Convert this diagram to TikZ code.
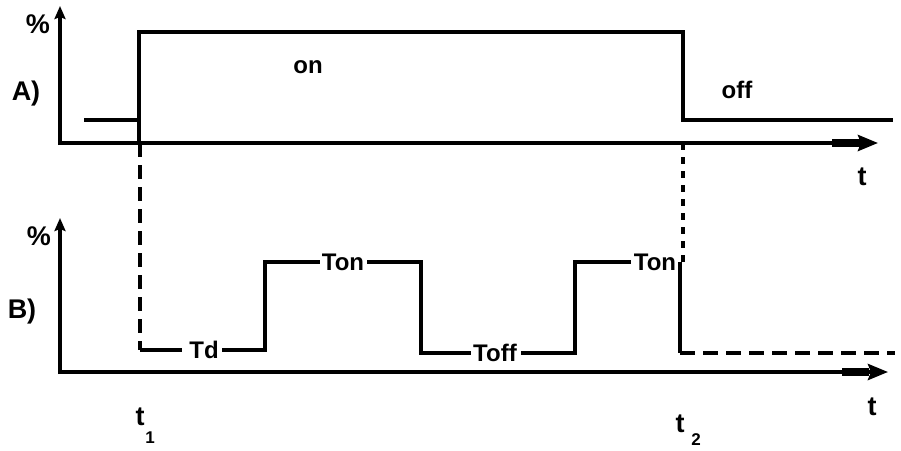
\documentclass[tikz,border=0pt]{standalone}
\usepackage{fontspec}
\setmainfont{Liberation Sans}
\usetikzlibrary{arrows.meta}
\tikzset{
  axis/.style={line width=4pt, line cap=butt},
  sig/.style={line width=3.2pt, line join=miter},
  dsh/.style={line width=3.6pt, dash pattern=on 14pt off 8pt},
  dshs/.style={line width=3.6pt, dash pattern=on 7pt off 7pt},
  lbl/.style={anchor=base, inner sep=0pt, font=\fontsize{24}{24}\selectfont\bfseries},
  big/.style={anchor=base, inner sep=0pt, font=\fontsize{27}{27}\selectfont\bfseries},
  sub/.style={anchor=base, inner sep=0pt, font=\fontsize{17}{17}\selectfont\bfseries},
  head/.style={-{Stealth[length=20pt,width=16pt,inset=3pt]}},
  yhead/.style={-{Stealth[length=13pt,width=11pt,inset=2pt]}}
}
\begin{document}
\begin{tikzpicture}[x=1pt,y=-1pt]
\useasboundingbox (0,0) rectangle (901,450);
% ---------- panel A ----------
\draw[axis,yhead] (60,145) -- (60,6);
\draw[axis,head] (58,143) -- (878,143);
\draw[line width=8pt] (832,143) -- (860,143);
\draw[sig] (84,120) -- (139,120);
\draw[sig] (139,143) -- (139,32) -- (683,32) -- (683,120) -- (893,120);
\node[big] (pa) at (38,33) {\%};
\node[big] (la) at (26,100) {A)};
\node[lbl] (on) at (308,73) {on};
\node[lbl] (off) at (737,98) {off};
\node[big] (ta) at (862,185) {t};
% ---------- dashed links ----------
\draw[dsh] (140,143) -- (140,350);
\draw[dshs] (683,143) -- (683,262);
% ---------- panel B ----------
\draw[axis,yhead] (60,374) -- (60,218);
\draw[axis,head] (58,372) -- (888,372);
\draw[line width=8pt] (842,372) -- (869,372);
\node[big] (pb) at (39,245) {\%};
\node[big] (lb) at (22,318) {B)};
\node[lbl] (td) at (204,358) {Td};
\node[lbl] (ton1) at (343,270.5) {Ton};
\node[lbl] (toff) at (495,361) {Toff};
\node[lbl] (ton2) at (655,270.5) {Ton};
\draw[sig] (140,350) -- (182,350);
\draw[sig] (222,350) -- (265,350) -- (265,262) -- (320,262);
\draw[sig] (367,262) -- (421,262) -- (421,353) -- (471,353);
\draw[sig] (521,353) -- (575,353) -- (575,262) -- (631,262);
\draw[sig] (680,262) -- (680,353);
\draw[dsh, dash pattern=on 15pt off 8pt] (680,353) -- (895,353);
\node[big] (tb) at (872,415) {t};
\node[big] (t1) at (140,425) {t};
\node[sub] (s1) at (150,443) {1};
\node[big] (t2) at (680,432) {t};
\node[sub] (s2) at (696,445) {2};
\end{tikzpicture}
\end{document}
